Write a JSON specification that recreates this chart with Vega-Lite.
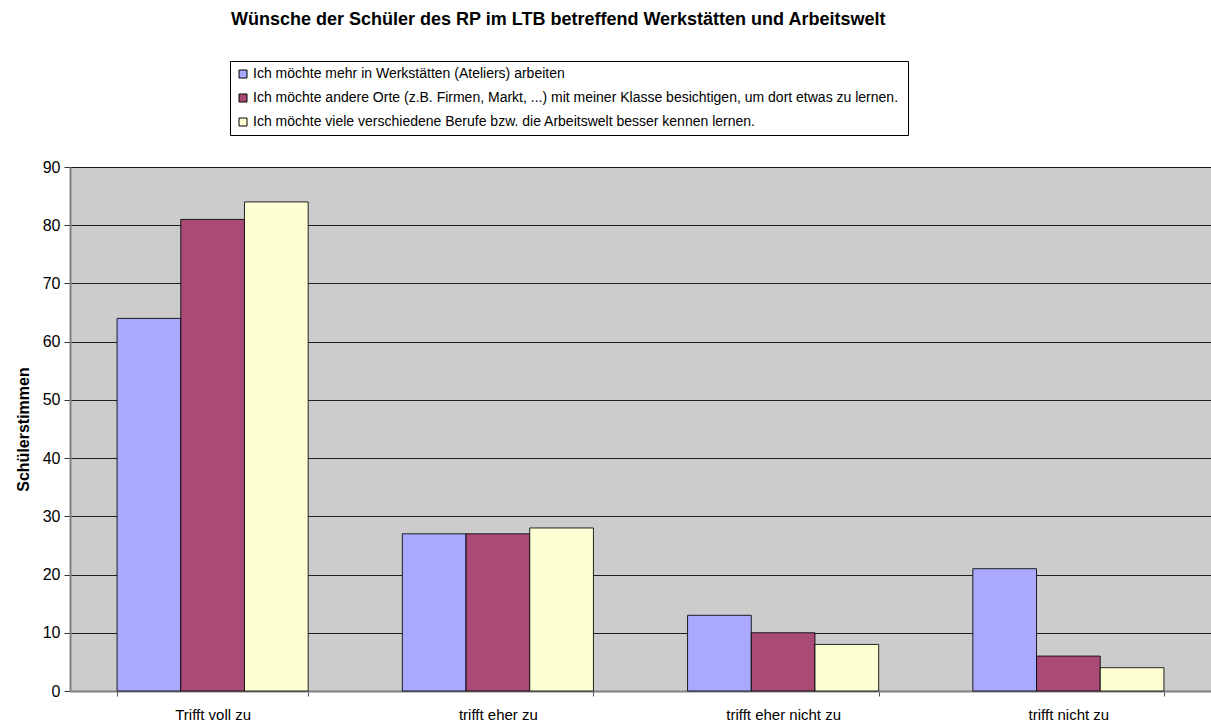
{
  "$schema": "https://vega.github.io/schema/vega-lite/v6.json",
  "autosize": {"type": "none"},
  "width": 1141,
  "height": 524,
  "padding": {"left": 70, "top": 167, "right": 0, "bottom": 31},
  "background": "white",
  "title": {
    "text": "Wünsche der Schüler des RP im LTB betreffend Werkstätten und Arbeitswelt",
    "font": "Liberation Sans",
    "fontSize": 18,
    "fontWeight": "bold",
    "color": "black",
    "anchor": "start",
    "frame": "group",
    "dx": 161,
    "offset": 14,
    "baseline": "bottom"
  },
  "data": {
    "values": [
      {"cat": "Trifft voll zu", "series": "Ich möchte mehr in Werkstätten (Ateliers) arbeiten", "value": 64},
      {"cat": "Trifft voll zu", "series": "Ich möchte andere Orte (z.B. Firmen, Markt, ...) mit meiner  Klasse besichtigen, um dort etwas zu lernen.", "value": 81},
      {"cat": "Trifft voll zu", "series": "Ich möchte viele verschiedene Berufe bzw. die Arbeitswelt besser kennen lernen.", "value": 84},
      {"cat": "trifft eher zu", "series": "Ich möchte mehr in Werkstätten (Ateliers) arbeiten", "value": 27},
      {"cat": "trifft eher zu", "series": "Ich möchte andere Orte (z.B. Firmen, Markt, ...) mit meiner  Klasse besichtigen, um dort etwas zu lernen.", "value": 27},
      {"cat": "trifft eher zu", "series": "Ich möchte viele verschiedene Berufe bzw. die Arbeitswelt besser kennen lernen.", "value": 28},
      {"cat": "trifft eher nicht zu", "series": "Ich möchte mehr in Werkstätten (Ateliers) arbeiten", "value": 13},
      {"cat": "trifft eher nicht zu", "series": "Ich möchte andere Orte (z.B. Firmen, Markt, ...) mit meiner  Klasse besichtigen, um dort etwas zu lernen.", "value": 10},
      {"cat": "trifft eher nicht zu", "series": "Ich möchte viele verschiedene Berufe bzw. die Arbeitswelt besser kennen lernen.", "value": 8},
      {"cat": "trifft nicht zu", "series": "Ich möchte mehr in Werkstätten (Ateliers) arbeiten", "value": 21},
      {"cat": "trifft nicht zu", "series": "Ich möchte andere Orte (z.B. Firmen, Markt, ...) mit meiner  Klasse besichtigen, um dort etwas zu lernen.", "value": 6},
      {"cat": "trifft nicht zu", "series": "Ich möchte viele verschiedene Berufe bzw. die Arbeitswelt besser kennen lernen.", "value": 4}
    ]
  },
  "mark": {"type": "bar", "stroke": "black", "strokeWidth": 1, "strokeOpacity": 0.85},
  "encoding": {
    "x": {
      "field": "cat",
      "type": "nominal",
      "sort": ["Trifft voll zu", "trifft eher zu", "trifft eher nicht zu", "trifft nicht zu"],
      "scale": {"paddingInner": 0.33, "paddingOuter": 0.165},
      "axis": {
        "title": null,
        "labelAngle": 0,
        "labelFont": "Liberation Sans",
        "labelFontSize": 15,
        "labelColor": "black",
        "labelPadding": 11,
        "tickBand": "extent",
        "tickSize": 5,
        "tickColor": "#555555",
        "domainColor": "#808080",
        "domainWidth": 2,
        "grid": false
      }
    },
    "xOffset": {
      "field": "series",
      "type": "nominal",
      "sort": [
        "Ich möchte mehr in Werkstätten (Ateliers) arbeiten",
        "Ich möchte andere Orte (z.B. Firmen, Markt, ...) mit meiner  Klasse besichtigen, um dort etwas zu lernen.",
        "Ich möchte viele verschiedene Berufe bzw. die Arbeitswelt besser kennen lernen."
      ],
      "scale": {"paddingInner": 0, "paddingOuter": 0}
    },
    "y": {
      "field": "value",
      "type": "quantitative",
      "scale": {"domain": [0, 90], "nice": false},
      "axis": {
        "title": "Schülerstimmen",
        "titleFont": "Liberation Sans",
        "titleFontSize": 16,
        "titleFontWeight": "bold",
        "titleColor": "black",
        "titlePadding": 11,
        "values": [0, 10, 20, 30, 40, 50, 60, 70, 80, 90],
        "labelFont": "Liberation Sans",
        "labelFontSize": 16,
        "labelColor": "black",
        "labelPadding": 4,
        "tickSize": 6,
        "tickColor": "#333333",
        "domainColor": "#808080",
        "domainWidth": 2,
        "grid": true,
        "gridColor": "black",
        "gridWidth": 1,
        "gridOpacity": 0.85
      }
    },
    "color": {
      "field": "series",
      "type": "nominal",
      "sort": [
        "Ich möchte mehr in Werkstätten (Ateliers) arbeiten",
        "Ich möchte andere Orte (z.B. Firmen, Markt, ...) mit meiner  Klasse besichtigen, um dort etwas zu lernen.",
        "Ich möchte viele verschiedene Berufe bzw. die Arbeitswelt besser kennen lernen."
      ],
      "scale": {
        "domain": [
          "Ich möchte mehr in Werkstätten (Ateliers) arbeiten",
          "Ich möchte andere Orte (z.B. Firmen, Markt, ...) mit meiner  Klasse besichtigen, um dort etwas zu lernen.",
          "Ich möchte viele verschiedene Berufe bzw. die Arbeitswelt besser kennen lernen."
        ],
        "range": ["#A9AAFF", "#A94A77", "#FFFFD4"]
      },
      "legend": {
        "title": null,
        "orient": "none",
        "legendX": 160,
        "legendY": -106,
        "symbolType": "square",
        "symbolSize": 64,
        "symbolStrokeColor": "black",
        "symbolStrokeWidth": 1,
        "symbolOpacity": 1,
        "labelFont": "Liberation Sans",
        "labelFontSize": 14,
        "labelColor": "black",
        "labelLimit": 0,
        "labelOffset": 3,
        "rowPadding": 10,
        "padding": 6,
        "strokeColor": "black",
        "fillColor": "white"
      }
    }
  },
  "config": {
    "view": {"fill": "#CCCCCC", "stroke": "#999999", "strokeWidth": 1},
    "legend": {"strokeWidth": 1}
  }
}
